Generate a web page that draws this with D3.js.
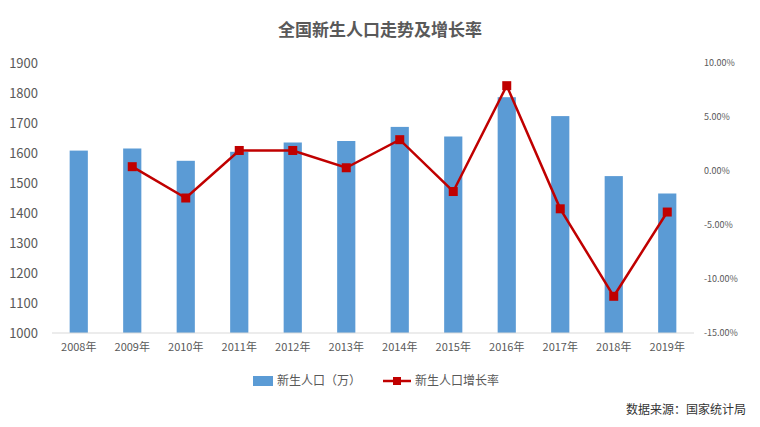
<!DOCTYPE html>
<html lang="zh">
<head>
<meta charset="UTF-8">
<title>全国新生人口走势及增长率</title>
<script src="https://cdn.jsdelivr.net/npm/d3@7"></script>
<style>
  body { margin: 0; background: #fff; }
  text { font-family: "Noto Sans CJK SC", "Noto Sans", sans-serif; }
</style>
</head>
<body>
<svg width="760" height="427"></svg>
<script>
  const years = ['2008年','2009年','2010年','2011年','2012年','2013年','2014年','2015年','2016年','2017年','2018年','2019年'];
  const births = [1608, 1615, 1574, 1604, 1635, 1640, 1687, 1655, 1786, 1723, 1523, 1465];
  const growth = [null, 0.4, -2.5, 1.9, 1.9, 0.3, 2.9, -1.9, 7.9, -3.5, -11.6, -3.8];
  const leftTicks = [1000, 1100, 1200, 1300, 1400, 1500, 1600, 1700, 1800, 1900];
  const rightTicks = [-15, -10, -5, 0, 5, 10];

  const svg = d3.select('svg');
  const x = d3.scaleBand().domain(years).range([52, 694]).paddingInner(0.66).paddingOuter(0.33);
  const yL = d3.scaleLinear().domain([1000, 1900]).range([333, 63]);
  const yR = d3.scaleLinear().domain([-15, 10]).range([333, 63]);

  svg.append('text').attr('x', 380).attr('y', 36).attr('text-anchor', 'middle')
    .attr('font-size', 17).attr('font-weight', 'bold').attr('fill', '#595959')
    .text('全国新生人口走势及增长率');

  const gl = svg.append('g').attr('transform', 'translate(42,0)')
    .call(d3.axisLeft(yL).tickValues(leftTicks).tickSize(0).tickPadding(4).tickFormat(d3.format('d')));
  gl.select('.domain').remove();
  gl.selectAll('text').attr('font-size', 13).attr('fill', '#595959');

  const gr = svg.append('g').attr('transform', 'translate(700,0)')
    .call(d3.axisRight(yR).tickValues(rightTicks).tickSize(0).tickPadding(4)
      .tickFormat(d => d.toFixed(2) + '%'));
  gr.select('.domain').remove();
  gr.selectAll('text').attr('font-size', 9).attr('fill', '#595959');

  svg.selectAll('rect.bar').data(births).enter().append('rect')
    .attr('class', 'bar')
    .attr('x', (d, i) => x(years[i]))
    .attr('width', x.bandwidth())
    .attr('y', d => yL(d))
    .attr('height', d => yL(1000) - yL(d))
    .attr('fill', '#5b9bd5');

  svg.append('line').attr('x1', 52).attr('x2', 694).attr('y1', 333).attr('y2', 333)
    .attr('stroke', '#d9d9d9');

  const gx = svg.append('g').attr('transform', 'translate(0,333)')
    .call(d3.axisBottom(x).tickSize(0).tickPadding(10));
  gx.select('.domain').remove();
  gx.selectAll('text').attr('font-size', 11).attr('fill', '#595959');

  const pts = growth.map((g, i) => ({ g, c: years[i] })).filter(d => d.g !== null);
  const line = d3.line().x(d => x(d.c) + x.bandwidth() / 2).y(d => yR(d.g));
  svg.append('path').datum(pts).attr('d', line)
    .attr('fill', 'none').attr('stroke', '#c00000').attr('stroke-width', 2.5);
  svg.selectAll('rect.pt').data(pts).enter().append('rect')
    .attr('class', 'pt')
    .attr('x', d => x(d.c) + x.bandwidth() / 2 - 4.5)
    .attr('y', d => yR(d.g) - 4.5)
    .attr('width', 9).attr('height', 9).attr('fill', '#c00000');

  const lg = svg.append('g').attr('transform', 'translate(0,381)');
  lg.append('rect').attr('x', 253).attr('y', -5).attr('width', 20).attr('height', 10).attr('fill', '#5b9bd5');
  lg.append('text').attr('x', 277).attr('y', 4).attr('font-size', 12).attr('fill', '#595959').text('新生人口（万）');
  lg.append('line').attr('x1', 383).attr('x2', 411).attr('y1', 0).attr('y2', 0).attr('stroke', '#c00000').attr('stroke-width', 2.5);
  lg.append('rect').attr('x', 393).attr('y', -4).attr('width', 8).attr('height', 8).attr('fill', '#c00000');
  lg.append('text').attr('x', 415).attr('y', 4).attr('font-size', 12).attr('fill', '#595959').text('新生人口增长率');

  svg.append('text').attr('x', 746).attr('y', 414).attr('text-anchor', 'end')
    .attr('font-size', 12).attr('fill', '#333').text('数据来源：国家统计局');
</script>
</body>
</html>
